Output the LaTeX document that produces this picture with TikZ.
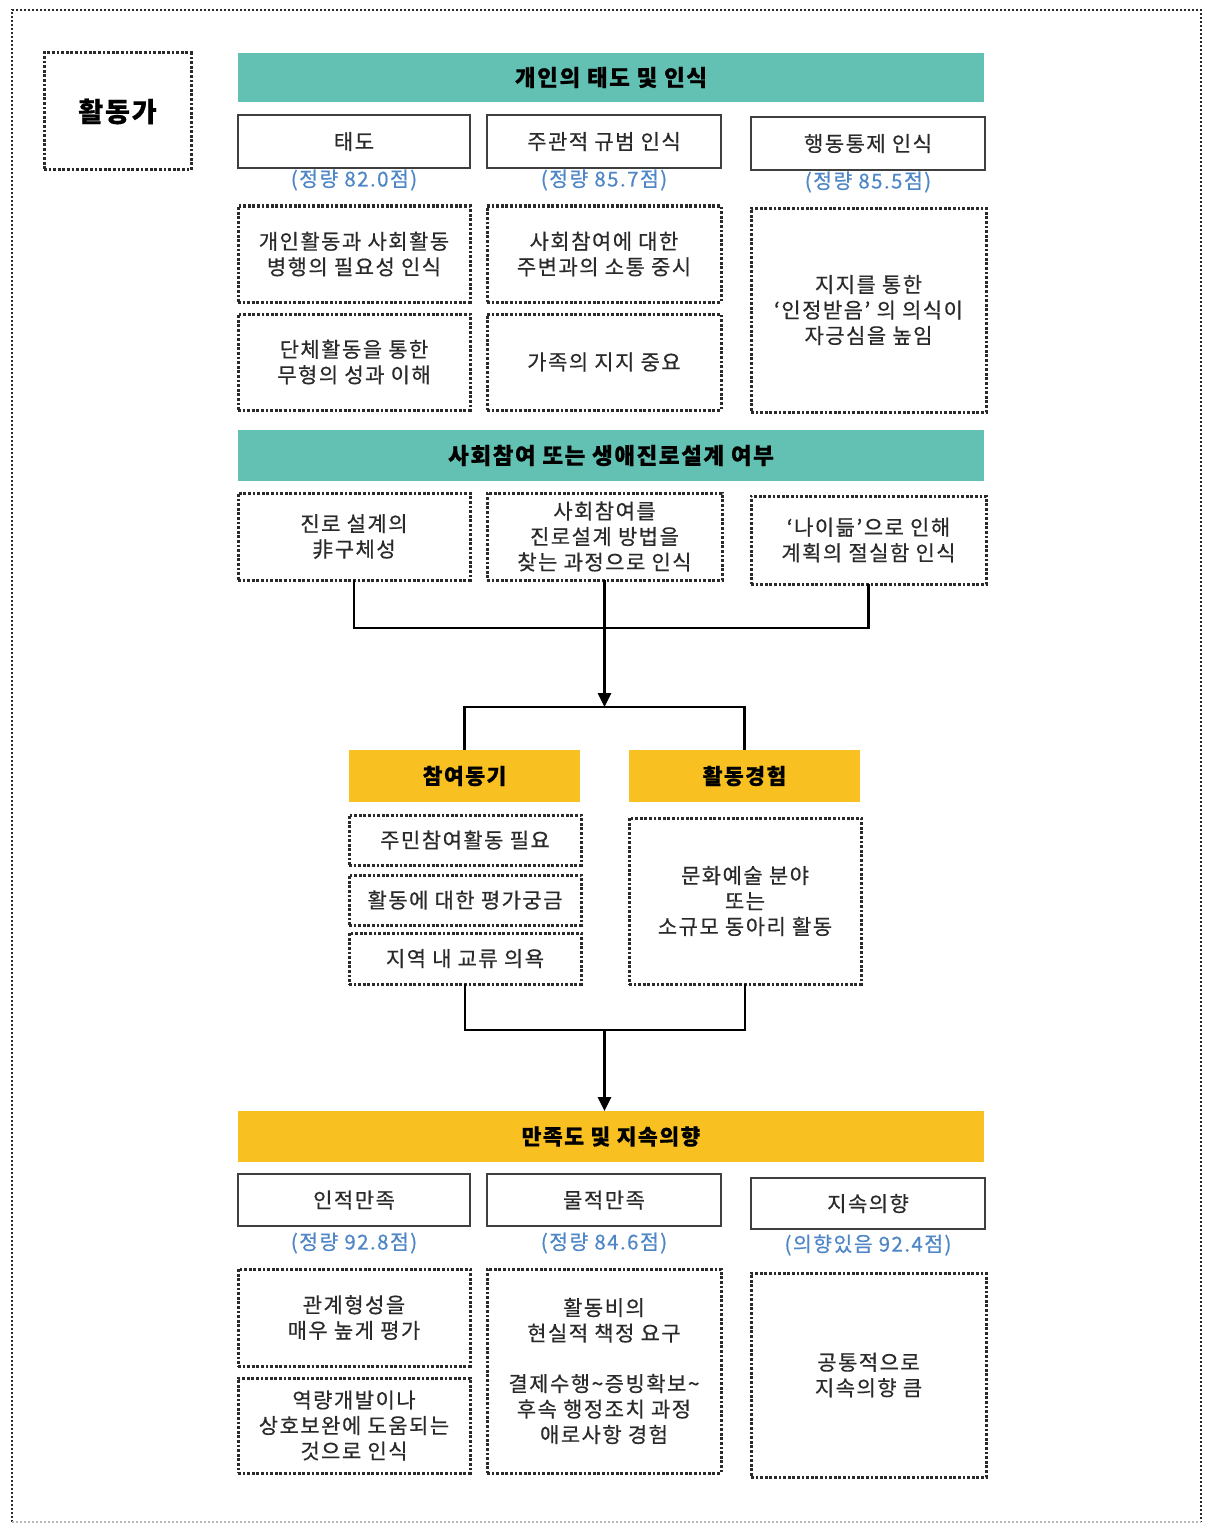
\documentclass[tikz,border=0pt]{standalone}
\usepackage{fontspec}
\setmainfont{Noto Sans CJK KR}[LetterSpace=7, FakeBold=0.5]
\usetikzlibrary{arrows.meta}
\definecolor{teal1}{HTML}{62C1B2}
\definecolor{yel1}{HTML}{F8C020}
\definecolor{blue1}{HTML}{4F86C6}
\definecolor{txt}{HTML}{2A2A2A}
\tikzset{
  base/.style={rectangle, inner sep=0pt, outer sep=0pt, align=center, text=txt,
    font=\fontsize{21}{25.5}\selectfont},
  solidbox/.style={base, draw=txt!90, line width=2pt},
  dotbox/.style={base, draw=txt, line width=3pt, dash pattern=on 2.8pt off 1.8pt},
  tealhead/.style={base, fill=teal1, font=\fontsize{22.5}{26}\selectfont\bfseries, text=black},
  yelhead/.style={base, fill=yel1, font=\fontsize{21.5}{26}\selectfont\bfseries, text=black},
  score/.style={inner sep=0pt, text=blue1, font=\fontsize{20.5}{24}\selectfont},
  conn/.style={draw=black, line width=2.6pt},
  arr/.style={conn, -{Triangle[width=13pt,length=14pt]}},
}
\begin{document}
\begin{tikzpicture}[x=1pt,y=-1pt]
\useasboundingbox (0,0) rectangle (1206,1525);
% outer border
\draw[txt, line width=2.4pt, dash pattern=on 2.4pt off 1.6pt] (12,1522) -- (12,10) -- (1201,10) -- (1201,1522);
\draw[gray!55, line width=2pt, dash pattern=on 2pt off 2pt] (12,1522) -- (1201,1522);

% actor
\node[dotbox, minimum width=147pt, minimum height=117pt, font=\fontsize{27}{30}\selectfont\bfseries, text=black] (hwal) at (117.5,111.5) {활동가};

% section 1
\node[tealhead, minimum width=746pt, minimum height=49pt] (h1) at (611,77.5) {개인의 태도 및 인식};
\node[solidbox, minimum width=232pt, minimum height=53pt] (t1) at (354,141.5) {태도};
\node[solidbox, minimum width=234pt, minimum height=53pt] (t2) at (604,141.5) {주관적 규범 인식};
\node[solidbox, minimum width=234pt, minimum height=53pt] (t3) at (868,143.5) {행동통제 인식};
\node[score] (s1) at (354,180) {(정량 82.0점)};
\node[score] (s2) at (604,180) {(정량 85.7점)};
\node[score] (s3) at (868,182) {(정량 85.5점)};
\node[dotbox, minimum width=232pt, minimum height=96pt] (d1a) at (354,254) {개인활동과 사회활동\\병행의 필요성 인식};
\node[dotbox, minimum width=232pt, minimum height=96pt] (d1b) at (354,362) {단체활동을 통한\\무형의 성과 이해};
\node[dotbox, minimum width=234pt, minimum height=96pt] (d2a) at (604,254) {사회참여에 대한\\주변과의 소통 중시};
\node[dotbox, minimum width=234pt, minimum height=96pt] (d2b) at (604,362) {가족의 지지 중요};
\node[dotbox, minimum width=235pt, minimum height=204pt] (d3) at (868.5,310) {지지를 통한\\‘인정받음’ 의 의식이\\자긍심을 높임};

% section 2
\node[tealhead, minimum width=746pt, minimum height=51pt] (h2) at (611,455.5) {사회참여 또는 생애진로설계 여부};
\node[dotbox, minimum width=232pt, minimum height=87pt] (r2a) at (354,536.5) {진로 설계의\\非구체성};
\node[dotbox, minimum width=235pt, minimum height=87pt] (r2b) at (604.5,536.5) {사회참여를\\진로설계 방법을\\찾는 과정으로 인식};
\node[dotbox, minimum width=235pt, minimum height=88pt] (r2c) at (868.5,540) {‘나이듦’으로 인해\\계획의 절실함 인식};

% middle
\node[yelhead, minimum width=231pt, minimum height=52pt] (m1) at (464.5,776) {참여동기};
\node[yelhead, minimum width=231pt, minimum height=52pt] (m2) at (744.5,776) {활동경험};
\node[dotbox, minimum width=232pt, minimum height=50pt] (m1a) at (465,840) {주민참여활동 필요};
\node[dotbox, minimum width=232pt, minimum height=50pt] (m1b) at (465,900) {활동에 대한 평가궁금};
\node[dotbox, minimum width=232pt, minimum height=51pt] (m1c) at (465,958.5) {지역 내 교류 의욕};
\node[dotbox, minimum width=232pt, minimum height=166pt] (m2a) at (745,901) {문화예술 분야\\또는\\소규모 동아리 활동};

% section 3
\node[yelhead, minimum width=746pt, minimum height=51pt] (h3) at (611,1136.5) {만족도 및 지속의향};
\node[solidbox, minimum width=232pt, minimum height=52pt] (b1) at (354,1200) {인적만족};
\node[solidbox, minimum width=234pt, minimum height=52pt] (b2) at (604,1200) {물적만족};
\node[solidbox, minimum width=234pt, minimum height=51pt] (b3) at (868,1203.5) {지속의향};
\node[score] (q1) at (354,1243) {(정량 92.8점)};
\node[score] (q2) at (604,1243) {(정량 84.6점)};
\node[score] (q3) at (868,1245) {(의향있음 92.4점)};
\node[dotbox, minimum width=232pt, minimum height=97pt] (e1a) at (354,1317.5) {관계형성을\\매우 높게 평가};
\node[dotbox, minimum width=232pt, minimum height=95pt] (e1b) at (354,1425.5) {역량개발이나\\상호보완에 도움되는\\것으로 인식};
\node[dotbox, minimum width=234pt, minimum height=204pt] (e2) at (604,1371) {활동비의\\현실적 책정 요구\\[25pt]결제수행\textasciitilde 증빙확보\textasciitilde\\후속 행정조치 과정\\애로사항 경험};
\node[dotbox, minimum width=235pt, minimum height=204pt] (e3) at (868.5,1375) {공통적으로\\지속의향 큼};

% connectors
\coordinate (j1) at (604.5,628);
\coordinate (sp1) at (604.5,707);
\coordinate (j2) at (604.5,1030);
\draw[conn] (r2a.south) |- (j1) -| (r2c.south);
\draw[arr] (r2b.south) -- (sp1);
\draw[conn] (m1.north) |- (sp1) -| (m2.north);
\draw[conn] (m1c.south) |- (j2) -| (m2a.south);
\draw[arr] (j2) -- (j2 |- h3.north);
\end{tikzpicture}
\end{document}
